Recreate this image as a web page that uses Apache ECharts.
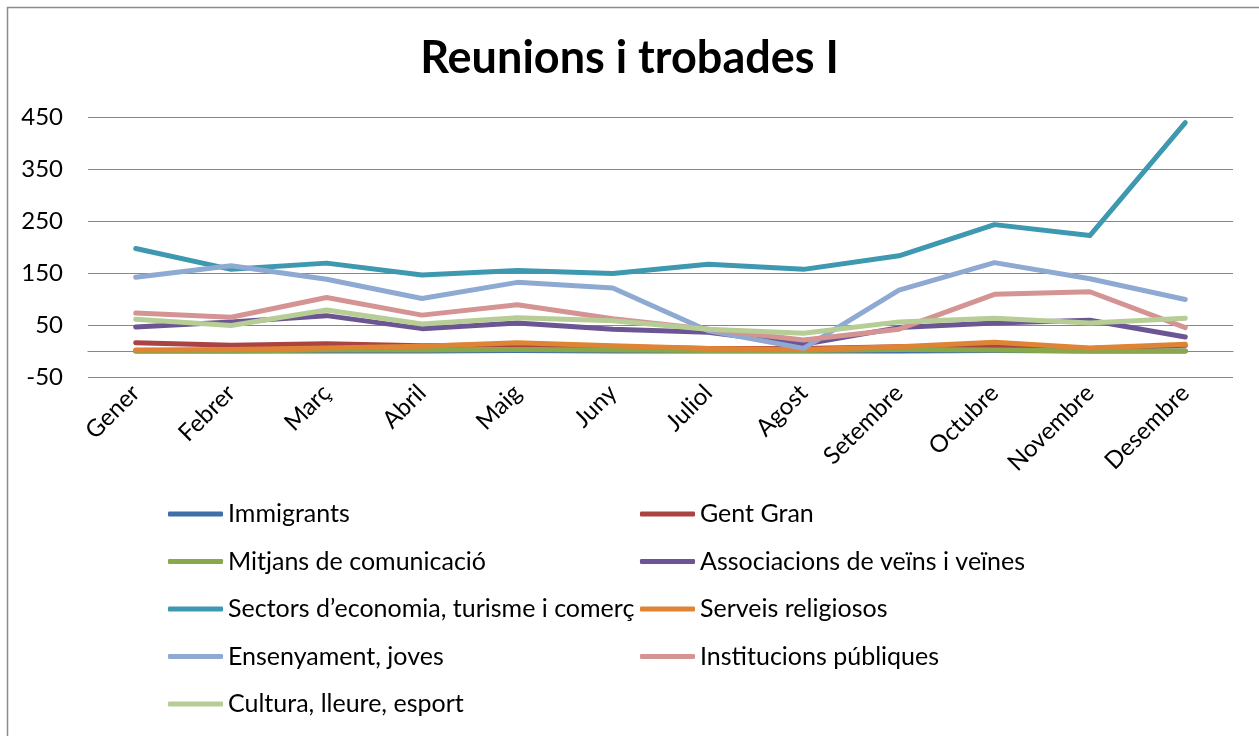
<!DOCTYPE html>
<html>
<head>
<meta charset="utf-8">
<title>Reunions i trobades I</title>
<script src="https://cdn.jsdelivr.net/npm/echarts@6/dist/echarts.min.js"></script>
<style>
  html, body { margin: 0; padding: 0; background: #fff; }
  #chart { width: 1259px; height: 736px; }
</style>
</head>
<body>
<div id="chart"></div>
<script>
const months = ['Gener', 'Febrer', 'Març', 'Abril', 'Maig', 'Juny', 'Juliol', 'Agost', 'Setembre', 'Octubre', 'Novembre', 'Desembre'];

const immigrants   = [0, 0, 0, 0, 1, 0, 0, 0, 0, 1, 0, 0];
const gentGran     = [16, 11, 14, 10, 12, 8, 5, 5, 8, 10, 5, 11];
const mitjans      = [0, 0, 2, 2, 3, 2, 1, 1, 3, 2, 0, 0];
const associacions = [46, 56, 68, 43, 54, 42, 36, 13, 45, 54, 59, 27];
const sectors      = [197, 157, 169, 146, 155, 149, 167, 157, 183, 243, 222, 439];
const serveis      = [2, 3, 6, 9, 16, 10, 5, 3, 8, 17, 6, 13];
const ensenyament  = [142, 164, 138, 101, 132, 121, 39, 5, 117, 170, 139, 99];
const institucions = [73, 65, 103, 69, 89, 62, 42, 21, 42, 109, 114, 45];
const cultura      = [61, 49, 79, 52, 64, 58, 42, 34, 56, 63, 54, 63];

const seriesNames = ['Immigrants', 'Gent Gran', 'Mitjans de comunicació', 'Associacions de veïns i veïnes',
  'Sectors d’economia, turisme i comerç', 'Serveis religiosos', 'Ensenyament, joves',
  'Institucions públiques', 'Cultura, lleure, esport'];
const seriesData = [immigrants, gentGran, mitjans, associacions, sectors, serveis, ensenyament, institucions, cultura];
const colors = ['#3f6fab', '#aa4442', '#88a84b', '#6c5593', '#3e98b0', '#de8434', '#8ea9d2', '#d39493', '#b6cd95'];

const font = 'Lato, "Open Sans", sans-serif';

let myChart = echarts.init(document.getElementById('chart'));

// legend in two columns like the original
const legendBase = {
  orient: 'vertical',
  icon: 'roundRect',
  padding: 0,
  itemWidth: 55,
  itemHeight: 5,
  itemGap: 19.5,
  top: 500,
  selectedMode: false,
  textStyle: { fontFamily: font, fontSize: 25, color: '#000', lineHeight: 28 }
};

myChart.setOption({
  color: colors,
  animation: false,
  graphic: [{
    type: 'rect',
    left: 5, top: 5,
    shape: { width: 1270, height: 750 },
    style: { fill: 'none', stroke: '#8c8c8c', lineWidth: 1.5 },
    silent: true
  }],
  title: {
    text: 'Reunions i trobades I',
    left: 'center',
    top: 31,
    textStyle: { fontFamily: font, fontSize: 45, fontWeight: 'bold', color: '#000' }
  },
  legend: [
    Object.assign({}, legendBase, { left: 168, data: seriesNames.filter((n, i) => i % 2 === 0) }),
    Object.assign({}, legendBase, { left: 640, data: seriesNames.filter((n, i) => i % 2 === 1) })
  ],
  grid: { left: 88, right: 26, top: 117, bottom: 359 },
  xAxis: {
    type: 'category',
    data: months,
    boundaryGap: true,
    axisLine: { onZero: true, lineStyle: { color: '#878787', width: 1.2 } },
    axisTick: { show: false },
    axisLabel: {
      rotate: 45,
      margin: 12,
      interval: 0,
      fontFamily: font,
      fontSize: 24,
      color: '#000'
    }
  },
  yAxis: {
    type: 'value',
    min: -50,
    max: 450,
    interval: 100,
    axisLine: { show: false },
    axisTick: { show: false },
    axisLabel: { margin: 25, fontFamily: font, fontSize: 24, color: '#000' },
    splitLine: { lineStyle: { color: '#878787', width: 1.2 } }
  },
  series: seriesNames.map((name, i) => ({
    name: name,
    type: 'line',
    data: seriesData[i],
    showSymbol: false,
    symbol: 'none',
    lineStyle: { width: 5, color: colors[i], cap: 'round', join: 'round' }
  }))
});
</script>
</body>
</html>
